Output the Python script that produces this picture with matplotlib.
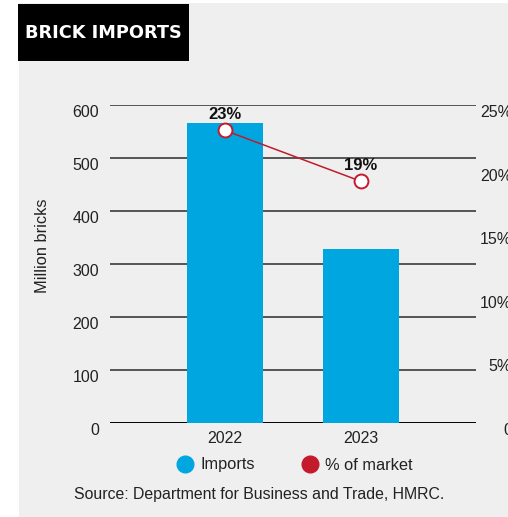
import matplotlib
matplotlib.use("Agg")
import matplotlib.pyplot as plt
from matplotlib.patches import Rectangle
from matplotlib.lines import Line2D
from matplotlib.transforms import ScaledTranslation

years = ["2022", "2023"]
imports = [566, 328]          # million bricks
share = [23, 19]              # % of market
share_labels = ["23%", "19%"]
left_ticks = [0, 100, 200, 300, 400, 500, 600]
right_ticks = [0, 5, 10, 15, 20, 25]
right_labels = ["0", "5%", "10%", "15%", "20%", "25%"]

BLUE = "#00a6e0"
RED = "#c31a2c"
BG = "#efefef"
TXT = "#222222"

plt.rcParams['font.family'] = ['Liberation Sans', 'DejaVu Sans']

W, H = 508, 517
fig = plt.figure(figsize=(W/100, H/100), dpi=100)
fig.patch.set_facecolor("white")

# grey panel
fig.patches.append(Rectangle((19/W, 0), 1, 1 - 3/H, transform=fig.transFigure,
                             facecolor=BG, edgecolor="none", zorder=-5))
# black title box
fig.patches.append(Rectangle((18/W, 1 - 61/H), (189-18)/W, (61-4)/H, transform=fig.transFigure,
                             facecolor="black", edgecolor="none", zorder=-4))
fig.text(103/W, 1 - 33/H, "BRICK IMPORTS", color="white", fontsize=12.8, fontweight="bold",
         family=["DejaVu Sans"], ha="center", va="center", zorder=2)

ax = fig.add_axes([110/W, 1 - 423/H, (476-110)/W, (423-105)/H])
ax.set_facecolor("none")
x = list(range(len(years)))
ax.bar(x, imports, width=0.56, color=BLUE, zorder=1)
ax.set_xlim(-0.846, 1.846)
ax.set_ylim(0, 600)
for v in left_ticks:
    ax.axhline(v, color="#000000" if v == 0 else "#3a3a3a", lw=1.4 if v == 0 else 1.2, zorder=0.5)
for s in ax.spines.values():
    s.set_visible(False)
ax.set_yticks(left_ticks)
ax.tick_params(axis="y", length=0, pad=8, labelsize=11.5, labelcolor=TXT)
ax.set_xticks(x)
ax.set_xticklabels(years)
ax.tick_params(axis="x", length=0, pad=6, labelsize=11.5, labelcolor=TXT)
ax.set_ylabel("Million bricks", fontsize=11.8, color=TXT)
ax.yaxis.set_label_coords(-0.163, 0.557)

ax2 = ax.twinx()
ax2.set_ylim(0, 25)
for s in ax2.spines.values():
    s.set_visible(False)
ax2.set_yticks(right_ticks)
ax2.set_yticklabels(right_labels)
ax2.tick_params(axis="y", length=0, pad=26, labelsize=11.5, labelcolor=TXT)
for lab in ax2.get_yticklabels():
    lab.set_horizontalalignment("right")

# tick labels sit slightly below their gridlines in the reference
down = ScaledTranslation(0, -6/100, fig.dpi_scale_trans)
for t in ax.yaxis.get_major_ticks():
    t.label1.set_transform(t.label1.get_transform() + down)
for t in ax2.yaxis.get_major_ticks():
    t.label2.set_transform(t.label2.get_transform() + down)

ax2.plot(x, share, color=RED, lw=1.1, marker="o", markersize=10, markerfacecolor="white",
         markeredgecolor=RED, markeredgewidth=1.4, zorder=3)
for xi, s, lab in zip(x, share, share_labels):
    ax2.annotate(lab, (xi, s), xytext=(0, 6), textcoords="offset points", ha="center",
                 va="bottom", fontsize=12, fontweight="bold", color="#111111")

handles = [Line2D([], [], marker="o", ls="none", markersize=12, color=BLUE, label="Imports"),
           Line2D([], [], marker="o", ls="none", markersize=12, color=RED, label="% of market")]
fig.legend(handles=handles, loc="center", bbox_to_anchor=(294/W, 1 - 465/H), ncol=2,
           frameon=False, fontsize=11.8, handletextpad=0.3, columnspacing=2.8, handlelength=1.2,
           labelcolor=TXT)
fig.text(259/W, 1 - 494/H, "Source: Department for Business and Trade, HMRC.", fontsize=11.4,
         color=TXT, ha="center", va="center")

fig.savefig("out.png", dpi=100, facecolor=fig.get_facecolor())
